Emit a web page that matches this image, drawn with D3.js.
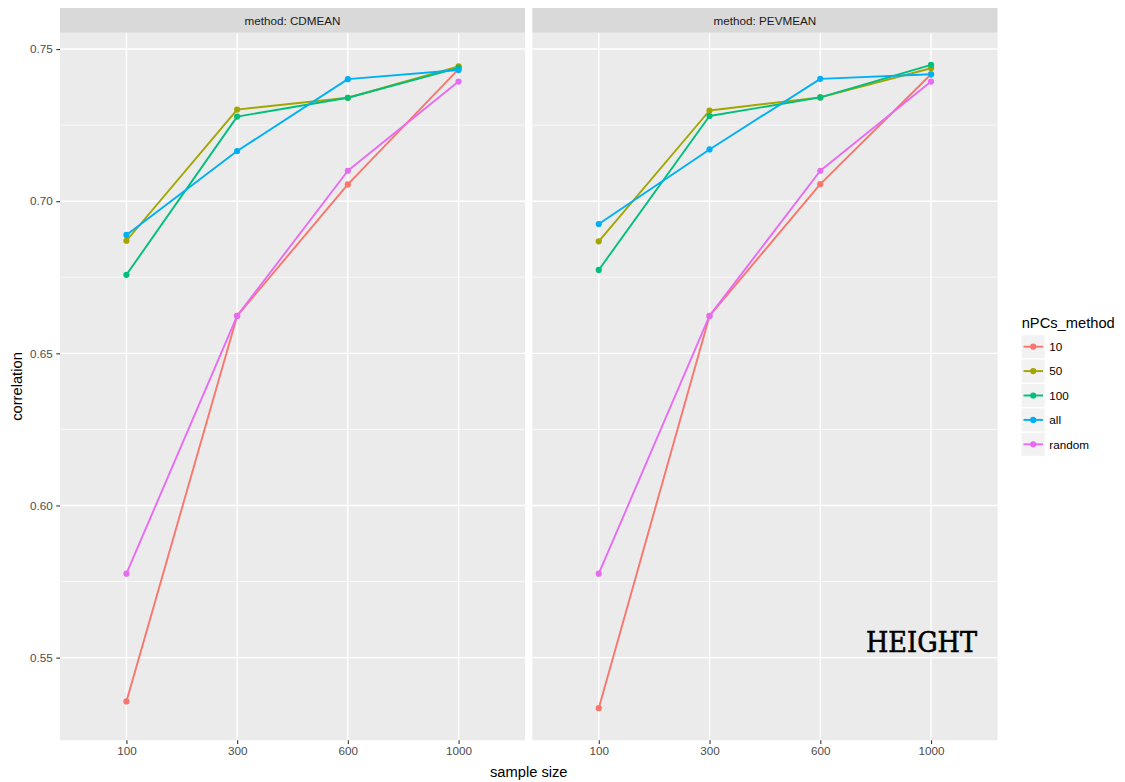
<!DOCTYPE html>
<html>
<head>
<meta charset="utf-8">
<script src="https://cdn.jsdelivr.net/npm/d3@7"></script>
<style>
  html, body { margin: 0; padding: 0; background: #ffffff; }
  svg { display: block; }
  text { font-family: "Liberation Sans", Arial, sans-serif; }
  text.annot { font-family: "DejaVu Serif", "Liberation Serif", serif; }
</style>
</head>
<body>
<svg id="chart" width="1125" height="782"></svg>
<script>
// Sample sizes (discrete x axis)
const sampleSizes = ["100", "300", "600", "1000"];
// Facet panels
const methods = ["CDMEAN", "PEVMEAN"];
// Series (nPCs_method) and their colours
const seriesNames = ["10", "50", "100", "all", "random"];
const seriesColors = ["#F8766D", "#A3A500", "#00BF7D", "#00B0F6", "#E76BF3"];
// Y axis ticks
const yTicks = [0.55, 0.60, 0.65, 0.70, 0.75];

// Correlation per sample size, one array per series, for each method
const cdmean10     = [0.5356, 0.6623, 0.7055, 0.7434];
const cdmean50     = [0.6870, 0.7301, 0.7340, 0.7443];
const cdmean100    = [0.6758, 0.7278, 0.7340, 0.7438];
const cdmeanAll    = [0.6889, 0.7165, 0.7401, 0.7431];
const cdmeanRandom = [0.5776, 0.6623, 0.7100, 0.7393];

const pevmean10     = [0.5334, 0.6623, 0.7056, 0.7417];
const pevmean50     = [0.6868, 0.7298, 0.7341, 0.7437];
const pevmean100    = [0.6774, 0.7280, 0.7341, 0.7448];
const pevmeanAll    = [0.6925, 0.7170, 0.7402, 0.7417];
const pevmeanRandom = [0.5776, 0.6623, 0.7100, 0.7393];

const panelData = {
  CDMEAN:  [cdmean10, cdmean50, cdmean100, cdmeanAll, cdmeanRandom],
  PEVMEAN: [pevmean10, pevmean50, pevmean100, pevmeanAll, pevmeanRandom]
};

const svg = d3.select("#chart");

// Layout
const panelTop = 32.7, panelBottom = 740.3;
const stripTop = 8;
const panels = [
  { method: "CDMEAN",  x0: 60,    x1: 525 },
  { method: "PEVMEAN", x0: 532.3, x1: 997.5 }
];

// Shared y scale, 5% expansion around the data range
const allVals = methods.flatMap(m => panelData[m].flat());
const [vMin, vMax] = d3.extent(allVals);
const pad = (vMax - vMin) * 0.05;
const y = d3.scaleLinear().domain([vMin - pad, vMax + pad]).range([panelBottom, panelTop]);

const color = d3.scaleOrdinal().domain(seriesNames).range(seriesColors);

const minorTicks = d3.range(yTicks.length - 1).map(i => (yTicks[i] + yTicks[i + 1]) / 2);

panels.forEach((p, pi) => {
  const x = d3.scalePoint().domain(sampleSizes).range([p.x0, p.x1]).padding(0.6);
  const g = svg.append("g");

  // Panel background
  g.append("rect")
    .attr("x", p.x0).attr("y", panelTop)
    .attr("width", p.x1 - p.x0).attr("height", panelBottom - panelTop)
    .attr("fill", "#EBEBEB");

  // Minor grid
  g.selectAll(".minor").data(minorTicks).join("line")
    .attr("x1", p.x0).attr("x2", p.x1)
    .attr("y1", d => y(d)).attr("y2", d => y(d))
    .attr("stroke", "#ffffff").attr("stroke-width", 0.7);

  // Major grid
  g.selectAll(".majorY").data(yTicks).join("line")
    .attr("x1", p.x0).attr("x2", p.x1)
    .attr("y1", d => y(d)).attr("y2", d => y(d))
    .attr("stroke", "#ffffff").attr("stroke-width", 1.4);
  g.selectAll(".majorX").data(sampleSizes).join("line")
    .attr("x1", d => x(d)).attr("x2", d => x(d))
    .attr("y1", panelTop).attr("y2", panelBottom)
    .attr("stroke", "#ffffff").attr("stroke-width", 1.4);

  // Strip
  g.append("rect")
    .attr("x", p.x0).attr("y", stripTop)
    .attr("width", p.x1 - p.x0).attr("height", panelTop - stripTop)
    .attr("fill", "#D9D9D9");
  g.append("text")
    .attr("x", (p.x0 + p.x1) / 2).attr("y", (stripTop + panelTop) / 2)
    .attr("dy", "0.36em")
    .attr("text-anchor", "middle")
    .attr("font-size", 11.7)
    .attr("fill", "#1A1A1A")
    .text("method: " + p.method);

  // X axis
  const xAxis = d3.axisBottom(x).tickSize(3.7).tickPadding(2.5);
  const gx = g.append("g").attr("transform", `translate(0,${panelBottom})`).call(xAxis);
  gx.select(".domain").remove();
  gx.selectAll(".tick line").attr("stroke", "#333333").attr("stroke-width", 1.1);
  gx.selectAll(".tick text").attr("font-size", 11.7).attr("fill", "#4D4D4D");

  // Y axis on the first panel only
  if (pi === 0) {
    const yAxis = d3.axisLeft(y).tickValues(yTicks).tickFormat(d3.format(".2f"))
      .tickSize(3.7).tickPadding(3.5);
    const gy = g.append("g").attr("transform", `translate(${p.x0},0)`).call(yAxis);
    gy.select(".domain").remove();
    gy.selectAll(".tick line").attr("stroke", "#333333").attr("stroke-width", 1.1);
    gy.selectAll(".tick text").attr("font-size", 11.7).attr("fill", "#4D4D4D");
  }

  // Lines then points, per series
  const line = d3.line().x((d, i) => x(sampleSizes[i])).y(d => y(d));
  const rows = panelData[p.method];
  g.selectAll(".series").data(rows).join("path")
    .attr("d", d => line(d))
    .attr("fill", "none")
    .attr("stroke", (d, i) => color(seriesNames[i]))
    .attr("stroke-width", 1.9)
    .attr("stroke-linejoin", "round");
  rows.forEach((vals, si) => {
    g.selectAll(null).data(vals).join("circle")
      .attr("cx", (d, i) => x(sampleSizes[i]))
      .attr("cy", d => y(d))
      .attr("r", 3.1)
      .attr("fill", color(seriesNames[si]));
  });
});

// Annotation in the second panel
svg.append("text")
  .attr("class", "annot")
  .attr("x", 866).attr("y", 651.7)
  .attr("font-size", 27.5)
  .attr("textLength", 111)
  .attr("lengthAdjust", "spacingAndGlyphs")
  .attr("fill", "#000000")
  .attr("stroke", "#000000")
  .attr("stroke-width", 0.6)
  .text("HEIGHT");

// Axis titles
svg.append("text")
  .attr("x", (60 + 997.5) / 2).attr("y", 771.7).attr("dy", "0.36em")
  .attr("text-anchor", "middle").attr("font-size", 14.7).attr("fill", "#000")
  .text("sample size");
svg.append("text")
  .attr("transform", `translate(17,${(panelTop + panelBottom) / 2}) rotate(-90)`)
  .attr("dy", "0.36em")
  .attr("text-anchor", "middle").attr("font-size", 14.7).attr("fill", "#000")
  .text("correlation");

// Legend
const legend = svg.append("g");
legend.append("text")
  .attr("x", 1021.7).attr("y", 328.3)
  .attr("font-size", 14.7).attr("fill", "#000")
  .text("nPCs_method");
const keyTop = 335.2, keyStep = 24.4, keySize = 23;
seriesNames.forEach((name, i) => {
  const ky = keyTop + i * keyStep;
  const k = legend.append("g");
  k.append("rect")
    .attr("x", 1021.7).attr("y", ky)
    .attr("width", keySize).attr("height", keySize)
    .attr("fill", "#F2F2F2");
  k.append("line")
    .attr("x1", 1023.5).attr("x2", 1043)
    .attr("y1", ky + keySize / 2).attr("y2", ky + keySize / 2)
    .attr("stroke", color(name)).attr("stroke-width", 1.9);
  k.append("circle")
    .attr("cx", 1021.7 + keySize / 2).attr("cy", ky + keySize / 2)
    .attr("r", 3.1).attr("fill", color(name));
  k.append("text")
    .attr("x", 1049.3).attr("y", ky + keySize / 2).attr("dy", "0.36em")
    .attr("font-size", 11.7).attr("fill", "#000")
    .text(name);
});
</script>
</body>
</html>
